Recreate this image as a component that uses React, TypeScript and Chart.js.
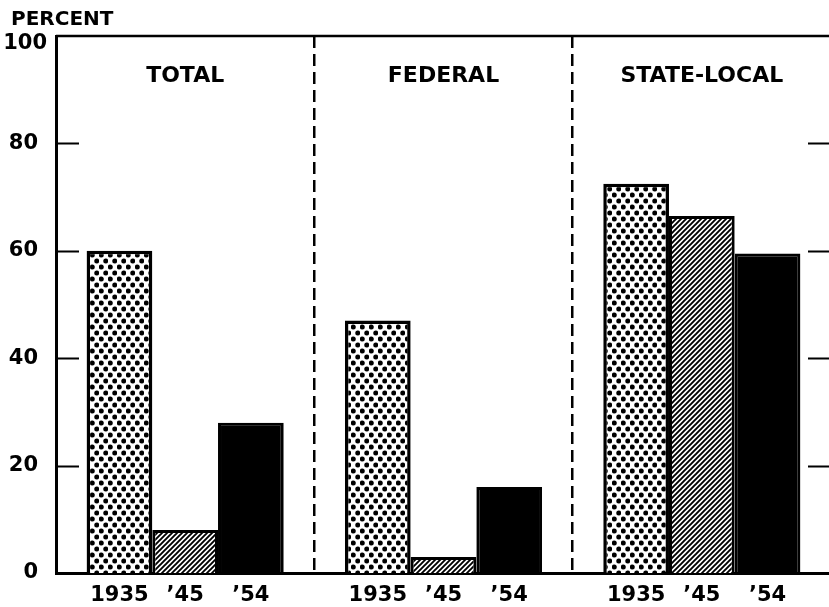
import React, { useEffect, useRef } from "react";
import { Chart, registerables } from "chart.js";

Chart.register(...registerables);

const groups = ["TOTAL", "FEDERAL", "STATE-LOCAL"];
const yearLabels = ["1935", "’45", "’54"];
const values1935 = [60, 47, 72.5];
const values1945 = [8, 3, 66.5];
const values1954 = [28, 16, 59.5];
const yTickValues = [20, 40, 60, 80];
const yTopLabel = "100";
const yTitle = "PERCENT";

const FONT = "'DejaVu Sans', sans-serif";

function makeDotPattern(ctx: CanvasRenderingContext2D) {
  const c = document.createElement("canvas");
  c.width = 9;
  c.height = 12;
  const g = c.getContext("2d")!;
  g.fillStyle = "#fff";
  g.fillRect(0, 0, 9, 12);
  g.fillStyle = "#000";
  for (const [x, y] of [
    [2.25, 3],
    [6.75, 9],
  ]) {
    g.beginPath();
    g.arc(x, y, 2.5, 0, Math.PI * 2);
    g.fill();
  }
  return ctx.createPattern(c, "repeat")!;
}

function makeHatchPattern(ctx: CanvasRenderingContext2D) {
  const c = document.createElement("canvas");
  c.width = 5;
  c.height = 5;
  const g = c.getContext("2d")!;
  g.fillStyle = "#fff";
  g.fillRect(0, 0, 5, 5);
  g.strokeStyle = "#000";
  g.lineWidth = 1.9;
  g.beginPath();
  g.moveTo(-1, 6);
  g.lineTo(6, -1);
  g.moveTo(-1, 1);
  g.lineTo(1, -1);
  g.moveTo(4, 6);
  g.lineTo(6, 4);
  g.stroke();
  return ctx.createPattern(c, "repeat")!;
}

const decorPlugin = {
  id: "decor",
  afterDraw(chart: any) {
    const { ctx, chartArea } = chart;
    const { left, right, top } = chartArea;
    const xScale = chart.scales.x;
    const yScale = chart.scales.y;
    ctx.save();
    // top border
    ctx.strokeStyle = "#000";
    ctx.lineWidth = 2.5;
    ctx.beginPath();
    ctx.moveTo(left, top);
    ctx.lineTo(right, top);
    ctx.stroke();
    // inward tick marks
    ctx.lineWidth = 2;
    for (const v of yTickValues) {
      const y = Math.round(yScale.getPixelForValue(v)) + 0.5;
      ctx.beginPath();
      ctx.moveTo(left, y);
      ctx.lineTo(left + 23, y);
      ctx.moveTo(right - 23, y);
      ctx.lineTo(right, y);
      ctx.stroke();
    }
    ctx.fillStyle = "#000";
    ctx.textBaseline = "middle";
    // top tick label, set a little below its line
    ctx.font = `bold 21px ${FONT}`;
    ctx.textAlign = "right";
    ctx.fillText(yTopLabel, left - 9, yScale.getPixelForValue(100) + 8);
    // group titles
    ctx.font = `bold 22px ${FONT}`;
    ctx.textAlign = "center";
    groups.forEach((g, i) => {
      ctx.fillText(g, xScale.getPixelForValue(i), 76);
    });
    // year labels under each bar
    ctx.font = `bold 21px ${FONT}`;
    chart.data.datasets.forEach((_: any, di: number) => {
      const meta = chart.getDatasetMeta(di);
      meta.data.forEach((el: any) => {
        ctx.fillText(yearLabels[di], el.x, 596);
      });
    });
    // axis title
    ctx.font = `bold 20px ${FONT}`;
    ctx.textAlign = "left";
    ctx.fillText(yTitle, 11, 20);
    ctx.restore();
  },
};

export default function App() {
  const ref = useRef<HTMLCanvasElement | null>(null);

  useEffect(() => {
    const canvas = ref.current!;
    const ctx = canvas.getContext("2d")!;
    const dot = makeDotPattern(ctx);
    const hatch = makeHatchPattern(ctx);
    const chart = new Chart(canvas, {
      type: "bar",
      data: {
        labels: groups,
        datasets: [
          {
            label: "1935",
            data: values1935,
            backgroundColor: dot,
            borderColor: "#000",
            borderWidth: 3.5,
            borderSkipped: "bottom",
          },
          {
            label: "1945",
            data: values1945,
            backgroundColor: hatch,
            borderColor: "#000",
            borderWidth: 3,
            borderSkipped: "bottom",
          },
          {
            label: "1954",
            data: values1954,
            backgroundColor: "#000",
            borderColor: "#000",
            borderWidth: 3,
            borderSkipped: "bottom",
          },
        ],
      },
      options: {
        animation: false,
        responsive: false,
        maintainAspectRatio: false,
        layout: { padding: { top: 36, left: 0, right: 0, bottom: 0 } },
        plugins: {
          legend: { display: false },
          tooltip: { enabled: false },
        },
        datasets: {
          bar: { categoryPercentage: 0.763, barPercentage: 1 },
        },
        scales: {
          x: {
            grid: {
              display: true,
              offset: true,
              drawTicks: false,
              color: (c: any) => (c.index === 0 ? "rgba(0,0,0,0)" : "#000"),
              lineWidth: 2.5,
            },
            border: { display: true, color: "#000", width: 3, dash: [12, 6] },
            ticks: { display: false },
            afterFit: (s: any) => {
              s.height = 34;
            },
          },
          y: {
            min: 0,
            max: 100,
            grid: { display: false },
            border: { display: true, color: "#000", width: 3 },
            ticks: {
              stepSize: 20,
              color: "#000",
              padding: 10,
              callback: (v: any) => (v === 100 ? "" : String(v)),
              font: { family: FONT, size: 21, weight: "bold" },
            },
            afterFit: (s: any) => {
              s.width = 56;
            },
          },
        },
      },
      plugins: [decorPlugin],
    });
    return () => chart.destroy();
  }, []);

  return (
    <div
      style={{
        position: "fixed",
        left: 0,
        top: 0,
        width: 829,
        height: 607,
        overflow: "hidden",
        background: "#fff",
      }}
    >
      <canvas ref={ref} width={831} height={607} style={{ display: "block" }} />
    </div>
  );
}
